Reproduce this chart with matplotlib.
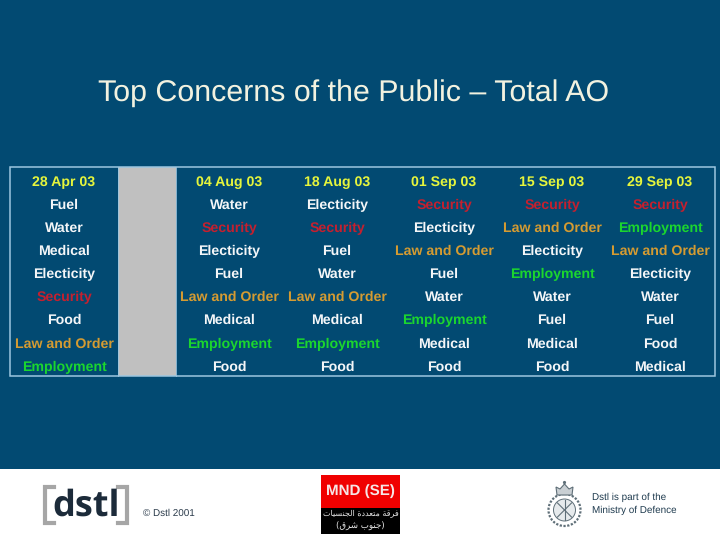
import numpy as np
import matplotlib
matplotlib.use("Agg")
import matplotlib.pyplot as plt
from matplotlib.patches import Rectangle, Circle, Polygon

title = "Top Concerns of the Public \u2013 Total AO"
dates = ["28 Apr 03", "04 Aug 03", "18 Aug 03", "01 Sep 03", "15 Sep 03", "29 Sep 03"]
col_1 = ["Fuel", "Water", "Medical", "Electicity", "Security", "Food", "Law and Order", "Employment"]
col_2 = ["Water", "Security", "Electicity", "Fuel", "Law and Order", "Medical", "Employment", "Food"]
col_3 = ["Electicity", "Security", "Fuel", "Water", "Law and Order", "Medical", "Employment", "Food"]
col_4 = ["Security", "Electicity", "Law and Order", "Fuel", "Water", "Employment", "Medical", "Food"]
col_5 = ["Security", "Law and Order", "Electicity", "Employment", "Water", "Fuel", "Medical", "Food"]
col_6 = ["Security", "Employment", "Law and Order", "Electicity", "Water", "Fuel", "Food", "Medical"]
columns = [col_1, col_2, col_3, col_4, col_5, col_6]
col_x = [64, 229, 337, 444, 552, 660]
row_y = [181, 204, 227, 250, 273, 296, 319, 343, 366]

BG = "#024A72"
text_colours = {"Security": "#C4202F", "Law and Order": "#D49B32", "Employment": "#1BD62E"}
ar_line1 = "\uFE95\uFE8E\uFEF4\uFEB4\uFEE8\uFEA0\uFEDF\uFE8D \uFE93\uFEA9\uFEAA\uFECC\uFE98\uFEE3 \uFE94\uFED7\uFEAE\uFED3"
ar_line2 = "(\uFED5\uFEAE\uFEB7 \uFE8F\uFEEE\uFEE8\uFE9F)"

plt.rcParams["font.family"] = ["Liberation Sans", "DejaVu Sans"]
plt.rcParams["text.hinting"] = "no_hinting"
plt.rcParams["text.hinting_factor"] = 8
fig = plt.figure(figsize=(7.2, 5.4), dpi=100, facecolor=BG)
ax = fig.add_axes([0, 0, 1, 1])
ax.set_xlim(0, 720)
ax.set_ylim(540, 0)
ax.axis("off")

ax.text(354, 101, title, fontsize=21.9, color="#F2F2E0", ha="center", va="baseline")

# table
ax.add_patch(Rectangle((117.5, 167), 58, 209, fc="#C0C0C0", ec="none", zorder=1))
ax.add_patch(Rectangle((9.5, 166.5), 705.5, 209.5, fc="none", ec="#9CC6E0", lw=1.1, zorder=2))
ax.plot([117.5, 117.5], [167, 376], color="#9CC6E0", lw=0.6, zorder=2)
ax.plot([175.5, 175.5], [167, 376], color="#9CC6E0", lw=0.6, zorder=2)

FS = 10.2
for x, d, col in zip(col_x, dates, columns):
    ax.text(x, row_y[0] + 5, d, fontsize=FS, fontweight="bold", color="#E6F53C",
            ha="center", va="baseline", zorder=3)
    for y, item in zip(row_y[1:], col):
        ax.text(x, y + 5, item, fontsize=FS, fontweight="bold",
                color=text_colours.get(item, "#F4F6F8"),
                ha="center", va="baseline", zorder=3)

# footer band
ax.add_patch(Rectangle((0, 468.5), 720, 71.5, fc="white", ec="none", zorder=1))

# dstl logo
grey = "#A6A6A6"
for pts in ([(54, 487), (45, 487), (45, 523), (54, 523)],
            [(118, 487), (126.5, 487), (126.5, 523), (118, 523)]):
    ax.plot(*zip(*pts), color=grey, lw=3.0, solid_joinstyle="miter", zorder=2)
ax.text(86, 516, "dstl", fontsize=26, fontweight="bold", family="Open Sans", color="#1C2B3A",
        ha="center", va="baseline", zorder=3)
ax.text(143, 515.5, "\u00A9 Dstl 2001", fontsize=7.1, color="#2A3A4A", ha="left", va="baseline", zorder=3)

# MND badge
ax.add_patch(Rectangle((321, 475), 79, 33, fc="#F00000", ec="none", zorder=2))
ax.add_patch(Rectangle((321, 508), 79, 26, fc="black", ec="none", zorder=2))
ax.text(360.5, 494.5, "MND (SE)", fontsize=10.9, fontweight="bold", color="#F6E6E6", ha="center", va="baseline", zorder=3)
ax.text(360.5, 514, ar_line1, fontsize=5.8, family="DejaVu Sans", color="#E6E6E6", ha="center", va="center", zorder=3)
ax.text(360, 526, ar_line2, fontsize=6.2, family="DejaVu Sans", color="#E6E6E6", ha="center", va="center", zorder=3)

# MoD crest
cx, cy = 564.5, 510
crest = "#5F6F78"
ax.add_patch(Circle((cx, cy), 16, fc="none", ec=crest, lw=1.6, ls=(0, (1, 0.7)), zorder=2))
ax.add_patch(Circle((cx, cy), 11, fc="#E6EAEC", ec=crest, lw=0.7, zorder=2))
for a in np.deg2rad([45, 135, 90]):
    ax.plot([cx - 10 * np.cos(a), cx + 10 * np.cos(a)], [cy - 10 * np.sin(a), cy + 10 * np.sin(a)],
            color=crest, lw=0.8, zorder=3)
ax.add_patch(Polygon([(557, 495), (556, 487), (560, 489), (564.5, 484), (569, 489), (573, 487), (572, 495)],
                     fc="#C9CFD3", ec=crest, lw=0.8, zorder=3))
ax.add_patch(Circle((564.5, 482.5), 1.6, fc=crest, ec="none", zorder=3))

ax.text(592, 500, "Dstl is part of the", fontsize=7.1, color="#1E3A4E", ha="left", va="baseline", zorder=3)
ax.text(592, 513, "Ministry of Defence", fontsize=7.1, color="#1E3A4E", ha="left", va="baseline", zorder=3)

fig.savefig("out.png", dpi=100, facecolor=BG)
